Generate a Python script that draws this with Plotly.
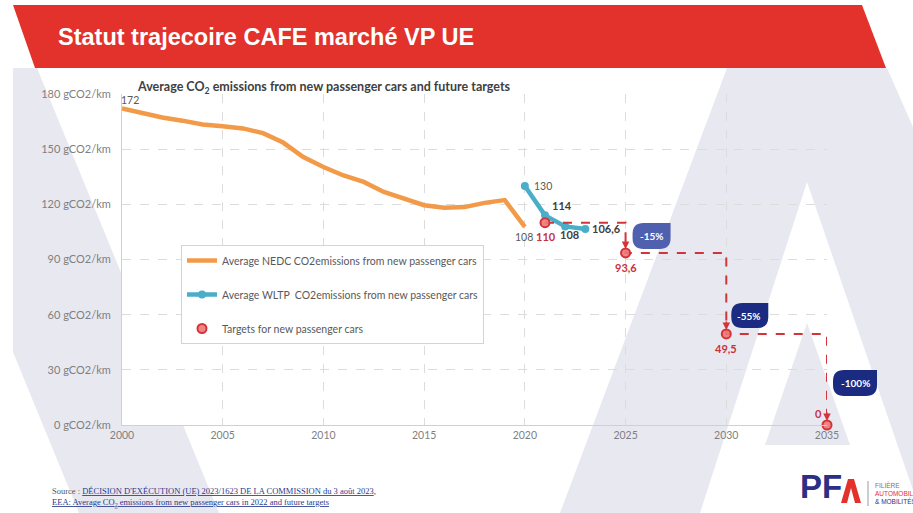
import plotly.graph_objects as go

# ---------------- data ----------------
nedc_years = list(range(2000, 2021))
nedc_values = [172.2, 169.7, 167.2, 165.5, 163.4, 162.4, 161.3, 158.7, 153.6, 145.7,
               140.3, 135.7, 132.2, 126.7, 123.4, 119.5, 118.1, 118.5, 120.8, 122.3, 107.8]
wltp_years = [2020, 2021, 2022, 2023]
wltp_values = [130, 114, 108, 106.6]
target_years = [2021, 2025, 2030, 2035]
target_values = [110, 93.6, 49.5, 0]
target_labels = ["110", "93,6", "49,5", "0"]
reduction_years = [2025, 2030, 2035]
reduction_values = [93.6, 49.5, 0]
reduction_labels = ["-15%", "-55%", "-100%"]
y_ticks = [0, 30, 60, 90, 120, 150, 180]
y_tick_labels = [f"{v} gCO2/km" for v in y_ticks]
x_ticks = [2000, 2005, 2010, 2015, 2020, 2025, 2030, 2035]
x_range = [2000, 2035]
y_range = [0, 180]

# ---------------- style ----------------
W, H = 913, 513
ML, MR, MT, MB = 122, 86, 94, 88
PW, PH = W - ML - MR, H - MT - MB
ORANGE = "#f29a48"
BLUE = "#4aaec8"
RED = "#d2343a"
NAVY = "#1c2b82"
LAV = "#e8e8f1"
GRID = "#dcdcdc"
FONT = "Lato"


def fx(x):
    return (x - ML) / PW


def fy(y):
    return (H - MB - y) / PH


def ax_x(v):  # data -> paper fraction along x (axis range mapping)
    return (v - x_range[0]) / (x_range[1] - x_range[0])


def ax_y(v):
    return (v - y_range[0]) / (y_range[1] - y_range[0])


def poly(pts):
    return "M " + " L ".join(f"{fx(x):.5f},{fy(y):.5f}" for x, y in pts) + " Z"


def badge_path(x0, x1, y0, y1, r):
    return (f"M {x0 + r},{y1} L {x1},{y1} L {x1},{y0 + r} Q {x1},{y0} {x1 - r},{y0} "
            f"L {x0 + r},{y0} Q {x0},{y0} {x0},{y0 + r} L {x0},{y1 - r} Q {x0},{y1} {x0 + r},{y1} Z")


fig = go.Figure()

fig.add_trace(go.Scatter(
    x=nedc_years, y=nedc_values, mode="lines",
    line=dict(color=ORANGE, width=4.5),
    name="Average NEDC CO2emissions from new passenger cars",
    legendgroup="a", cliponaxis=False))
fig.add_trace(go.Scatter(
    x=wltp_years, y=wltp_values, mode="lines+markers",
    line=dict(color=BLUE, width=4.5), marker=dict(size=8, color=BLUE),
    name="Average WLTP\u00a0 CO2emissions from new passenger cars",
    legendgroup="b", cliponaxis=False))
fig.add_trace(go.Scatter(
    x=target_years, y=target_values, mode="lines",
    line=dict(color=RED, width=2, dash="dash", shape="hv"),
    showlegend=False, hoverinfo="skip", cliponaxis=False))
fig.add_trace(go.Scatter(
    x=target_years, y=target_values, mode="markers",
    marker=dict(size=9, color="rgba(238,120,120,0.9)", line=dict(color=RED, width=2)),
    name="Targets for new passenger cars", legendgroup="c", cliponaxis=False))

shapes = []
# background slide decorations
shapes.append(dict(type="path", xref="paper", yref="paper", layer="below",
                   path=poly([(13, 68), (37, 68), (122, 275), (122, 425), (183, 425),
                              (219, 513), (79, 513), (13, 352)]),
                   fillcolor=LAV, line=dict(width=0)))
shapes.append(dict(type="path", xref="paper", yref="paper", layer="below",
                   path=poly([(560, 513), (727, 68), (887, 68), (913, 127), (913, 490),
                              (807, 182), (700, 513)]),
                   fillcolor=LAV, line=dict(width=0)))
shapes.append(dict(type="path", xref="paper", yref="paper", layer="below",
                   path=poly([(807, 323), (850, 445), (765, 445)]),
                   fillcolor=LAV, line=dict(width=0)))
# red header band
shapes.append(dict(type="path", xref="paper", yref="paper", layer="below",
                   path=poly([(13, 5), (862, 5), (886, 68), (35, 68)]),
                   fillcolor="#e2322b", line=dict(width=0)))
# PFA logo chevron and separator
shapes.append(dict(type="path", xref="paper", yref="paper", layer="above",
                   path=poly([(841, 503), (848, 479), (854, 479), (861, 503), (855, 503),
                              (851, 488), (847, 503)]),
                   fillcolor="#e2322b", line=dict(width=0)))
shapes.append(dict(type="line", xref="paper", yref="paper", layer="above",
                   x0=fx(868), x1=fx(868), y0=fy(481), y1=fy(506),
                   line=dict(color="#9a9a9a", width=1)))

# reduction badges (anchored on the target points, pixel-sized, not clipped)
badge_geom = [(7, 45, 4, 30, "#4e60ae"), (5, 42, 6, 31, NAVY), (6, 50, 29, 55, NAVY)]
for yr, val, (x0, x1, y0, y1, col) in zip(reduction_years, reduction_values, badge_geom):
    shapes.append(dict(type="path", xref="paper", yref="paper", xsizemode="pixel", ysizemode="pixel",
                       xanchor=ax_x(yr), yanchor=ax_y(val), layer="above",
                       path=badge_path(x0, x1, y0, y1, 11),
                       fillcolor=col, line=dict(width=0)))

annotations = []
# header title
annotations.append(dict(xref="paper", yref="paper", x=fx(56), y=fy(37), xanchor="left",
                        yanchor="middle", showarrow=False,
                        text="<b>Statut trajecoire CAFE marché VP UE</b>",
                        font=dict(family="Liberation Sans", size=23.5, color="white")))
# chart title
annotations.append(dict(xref="paper", yref="paper", x=fx(135), y=fy(87), xanchor="left",
                        yanchor="middle", showarrow=False,
                        text="<b>Average CO<sub>2</sub> emissions from new passenger cars and future targets</b>",
                        font=dict(family=FONT, size=12.5, color="#404040")))

# data labels
def lab(x, y, text, dx, dy, color="#595959", bold=False, size=10.5, xanchor="center"):
    annotations.append(dict(x=x, y=y, xref="x", yref="y", text=f"<b>{text}</b>" if bold else text,
                            showarrow=False, xshift=dx, yshift=dy, xanchor=xanchor,
                            font=dict(family=FONT, size=size, color=color)))

lab(nedc_years[0], nedc_values[0], "172", 8, 8)
lab(nedc_years[-1], nedc_values[-1], "108", -1, -10)
lab(wltp_years[0], wltp_values[0], "130", 18, 0)
lab(wltp_years[1], wltp_values[1], "114", 17, 10, color="#404040", bold=True, size=11)
lab(wltp_years[2], wltp_values[2], "108", 4, -8, color="#404040", bold=True, size=11)
lab(wltp_years[3], wltp_values[3], "106,6", 21, 0, color="#404040", bold=True, size=11)

target_offsets = [(1, -14), (0, -15), (0, -15), (-9, 12)]
for yr, val, txt, (dx, dy) in zip(target_years, target_values, target_labels, target_offsets):
    lab(yr, val, txt, dx, dy, color="#c8313a", bold=True, size=11)

# arrowheads on the vertical drops
for yr, val in zip(target_years[1:], target_values[1:]):
    annotations.append(dict(x=yr, y=val, xref="x", yref="y", text="", showarrow=True,
                            ax=0, ay=-14, arrowhead=2, arrowsize=1, arrowwidth=1.5,
                            arrowcolor=RED, standoff=4))

badge_text_pos = [(26, 17), (23, 18), (28, 42)]
for yr, val, txt, (dx, dy) in zip(reduction_years, reduction_values, reduction_labels, badge_text_pos):
    annotations.append(dict(x=yr, y=val, xref="x", yref="y", text=f"<b>{txt}</b>",
                            showarrow=False, xshift=dx, yshift=dy,
                            font=dict(family=FONT, size=10, color="white")))

# source
annotations.append(dict(xref="paper", yref="paper", x=fx(50), y=fy(491), xanchor="left",
                        yanchor="middle", showarrow=False,
                        text="<span style='color:#555555'>Source : </span><u>DÉCISION D'EXÉCUTION (UE) 2023/1623 DE LA COMMISSION du 3 août 2023</u>,",
                        font=dict(family="Liberation Serif", size=8.5, color="#2a3a8c")))
annotations.append(dict(xref="paper", yref="paper", x=fx(50), y=fy(502), xanchor="left",
                        yanchor="middle", showarrow=False,
                        text="<u>EEA: Average CO<sub>2</sub> emissions from new passenger cars in 2022 and future targets</u>",
                        font=dict(family="Liberation Serif", size=8.5, color="#2a3a8c")))

# PFA logo text
annotations.append(dict(xref="paper", yref="paper", x=fx(798), y=fy(507), xanchor="left",
                        yanchor="bottom", showarrow=False, text="<b>PF</b>",
                        font=dict(family="Liberation Sans", size=33, color="#2b2f86")))
for i, (t, c) in enumerate([("FILIÈRE", "#777777"), ("AUTOMOBILE", "#e2322b"), ("& MOBILITÉS", "#2b2f86")]):
    annotations.append(dict(xref="paper", yref="paper", x=fx(873), y=fy(485 + 8 * i), xanchor="left",
                            yanchor="middle", showarrow=False, text=t,
                            font=dict(family="Liberation Sans", size=6.5, color=c)))

fig.update_layout(
    width=W, height=H, autosize=False,
    margin=dict(l=ML, r=MR, t=MT, b=MB, pad=0),
    paper_bgcolor="white", plot_bgcolor="rgba(0,0,0,0)",
    font=dict(family=FONT, color="#595959"),
    shapes=shapes, annotations=annotations,
    showlegend=True,
    legend=dict(x=fx(181), y=fy(245), xanchor="left", yanchor="top",
                bgcolor="white", bordercolor="#d4d4d4", borderwidth=1,
                font=dict(family=FONT, size=10.5, color="#595959"),
                traceorder="grouped", tracegroupgap=15, itemwidth=30),
    xaxis=dict(range=x_range, tickvals=x_ticks, ticktext=[str(t) for t in x_ticks],
               showgrid=True, gridcolor=GRID, griddash="dash", gridwidth=1,
               showline=True, linecolor="#d0d0d0", linewidth=1, zeroline=False,
               ticks="", tickfont=dict(family=FONT, size=10.5, color="#7f7f7f")),
    yaxis=dict(range=y_range, tickvals=y_ticks, ticktext=y_tick_labels,
               showgrid=True, gridcolor=GRID, griddash="dash", gridwidth=1,
               showline=True, linecolor="#d0d0d0", linewidth=1, zeroline=False,
               ticks="", ticklabelstandoff=8,
               tickfont=dict(family=FONT, size=11, color="#7f7f7f")),
)

fig.write_html("out.html", config={"displayModeBar": False},
               post_script="document.body.style.margin='0';document.body.style.overflow='hidden';")
